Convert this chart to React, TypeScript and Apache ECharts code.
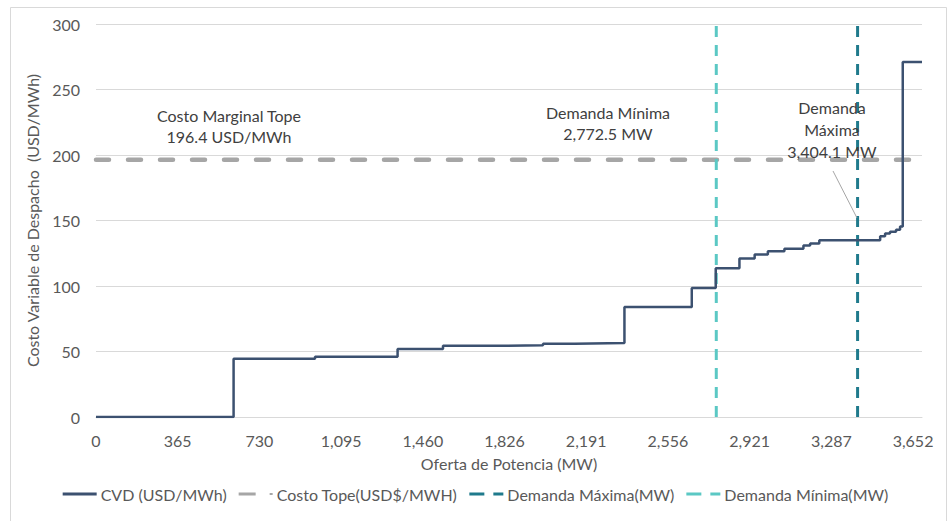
import React, { useEffect, useRef } from "react";
import * as echarts from "echarts";

// Supply curve (step): x = cumulative offered power (MW), y = variable dispatch cost (USD/MWh)
const supplyMW = [0, 615, 979, 1348, 1551, 1784, 1998, 2141, 2362, 2663, 2770, 2876, 2944, 3003, 3077, 3162, 3192, 3233, 3505, 3527, 3549, 3576, 3594, 3606, 3692];
const cvdUSD = [0, 44.5, 46, 52, 54.3, 54.8, 56, 56.5, 84, 98.5, 113.5, 121, 124, 126.5, 128.5, 131, 132.5, 135, 138, 140, 141.5, 143, 145.5, 271, 271];

const costoTope = 196.4;
const demandaMinima = 2772.5;
const demandaMaxima = 3404.1;
const xMin = 0;
const xMax = 3692;
const xInterval = 365.2;
const xTickLabels = ["0", "365", "730", "1,095", "1,460", "1,826", "2,191", "2,556", "2,921", "3,287", "3,652"];
const yTicks = [0, 50, 100, 150, 200, 250, 300];

const seriesNames = ["CVD (USD/MWh)", "Costo Tope(USD$/MWH)", "Demanda Máxima(MW)", "Demanda Mínima(MW)"];

const FONT = "Lato";
const TXT = "#595959";

const ICON_SOLID = "path://M0,0h34v3h-34z";
const ICON_TOPE = "path://M0,0h17v3h-17z M31,0.5h3v2h-3z";
const ICON_DASH = "path://M0,0h15v3h-15z M24,0h10v3h-10z";

export default function App() {
  const ref = useRef<HTMLDivElement>(null);
  useEffect(() => {
    if (!ref.current) return;
    const chart = echarts.init(ref.current, undefined, { renderer: "svg" });
    const cvdData = supplyMW.map((x, i) => [x, cvdUSD[i]]);
    chart.setOption({
      animation: false,
      backgroundColor: "#ffffff",
      textStyle: { fontFamily: FONT },
      grid: { left: 96, right: 29, top: 24, bottom: 104 },
      xAxis: {
        type: "value",
        min: xMin,
        max: xMax,
        interval: xInterval,
        name: "Oferta de Potencia (MW)",
        nameLocation: "middle",
        nameGap: 38,
        nameTextStyle: { color: TXT, fontSize: 16, fontFamily: FONT },
        axisLine: { show: true, lineStyle: { color: "#D9D9D9", width: 1 } },
        axisTick: { show: false },
        splitLine: { show: false },
        axisLabel: {
          color: TXT,
          fontSize: 16,
          fontFamily: FONT,
          margin: 15,
          showMaxLabel: false,
          formatter: (v: number) => {
            const i = Math.round(v / xInterval);
            return Math.abs(v - i * xInterval) < 1 ? xTickLabels[i] ?? "" : "";
          },
        },
      },
      yAxis: {
        type: "value",
        min: yTicks[0],
        max: yTicks[yTicks.length - 1],
        interval: 50,
        name: "Costo Variable de Despacho  (USD/MWh)",
        nameLocation: "middle",
        nameGap: 56,
        nameTextStyle: { color: TXT, fontSize: 16, fontFamily: FONT },
        axisLine: { show: false },
        axisTick: { show: false },
        axisLabel: { color: TXT, fontSize: 16, fontFamily: FONT, margin: 16 },
        splitLine: { lineStyle: { color: "#D9D9D9", width: 1 } },
      },
      legend: {
        bottom: 14,
        left: "center",
        itemWidth: 34,
        itemHeight: 3,
        itemGap: 12,
        textStyle: { color: TXT, fontSize: 16, fontFamily: FONT, padding: [0, 0, 0, -1] },
        data: [
          { name: seriesNames[0], icon: ICON_SOLID },
          { name: seriesNames[1], icon: ICON_TOPE },
          { name: seriesNames[2], icon: ICON_DASH },
          { name: seriesNames[3], icon: ICON_DASH },
        ],
      },
      series: [
        {
          name: seriesNames[1],
          type: "line",
          data: [[xMin, costoTope], [xMax, costoTope]],
          symbol: "none",
          z: 2,
          lineStyle: { color: "#A6A6A6", width: 4.5, type: [13, 19], cap: "round" },
          itemStyle: { color: "#A6A6A6" },
        },
        {
          name: seriesNames[3],
          type: "line",
          data: [[demandaMinima, yTicks[0]], [demandaMinima, yTicks[yTicks.length - 1]]],
          symbol: "none",
          z: 3,
          lineStyle: { color: "#5BC8C4", width: 3, type: [11, 8] },
          itemStyle: { color: "#5BC8C4" },
        },
        {
          name: seriesNames[2],
          type: "line",
          data: [[demandaMaxima, yTicks[0]], [demandaMaxima, yTicks[yTicks.length - 1]]],
          symbol: "none",
          z: 3,
          lineStyle: { color: "#1F7A8C", width: 3, type: [11, 8] },
          itemStyle: { color: "#1F7A8C" },
        },
        {
          name: seriesNames[0],
          type: "line",
          step: "end",
          data: cvdData,
          symbol: "none",
          z: 4,
          lineStyle: { color: "#3C5170", width: 2.5 },
          itemStyle: { color: "#3C5170" },
        },
      ],
      graphic: [
        {
          type: "rect",
          shape: { x: 10.5, y: 7.5, width: 936, height: 540 },
          style: { fill: "none", stroke: "#D9D9D9", lineWidth: 1 },
          silent: true,
          z: -10,
        },
        {
          type: "text",
          x: 229,
          y: 126,
          z: 100,
          style: {
            text: "Costo Marginal Tope\n196.4 USD/MWh",
            align: "center",
            verticalAlign: "middle",
            fill: "#404040",
            fontSize: 16,
            fontFamily: FONT,
            lineHeight: 21,
          },
        },
        {
          type: "text",
          x: 608,
          y: 123,
          z: 100,
          style: {
            text: "Demanda Mínima\n2,772.5 MW",
            align: "center",
            verticalAlign: "middle",
            fill: "#404040",
            fontSize: 16,
            fontFamily: FONT,
            lineHeight: 21,
          },
        },
        {
          type: "text",
          x: 832,
          y: 129,
          z: 100,
          style: {
            text: "Demanda\nMáxima\n3,404.1 MW",
            align: "center",
            verticalAlign: "middle",
            fill: "#404040",
            fontSize: 16,
            fontFamily: FONT,
            lineHeight: 22,
          },
        },
        {
          type: "line",
          shape: { x1: 833, y1: 171, x2: 857, y2: 218 },
          style: { stroke: "#A6A6A6", lineWidth: 1 },
          z: 100,
        },
      ],
    });
    return () => chart.dispose();
  }, []);
  return (
    <div
      ref={ref}
      style={{ position: "fixed", left: 0, top: 0, width: 951, height: 521 }}
    />
  );
}
